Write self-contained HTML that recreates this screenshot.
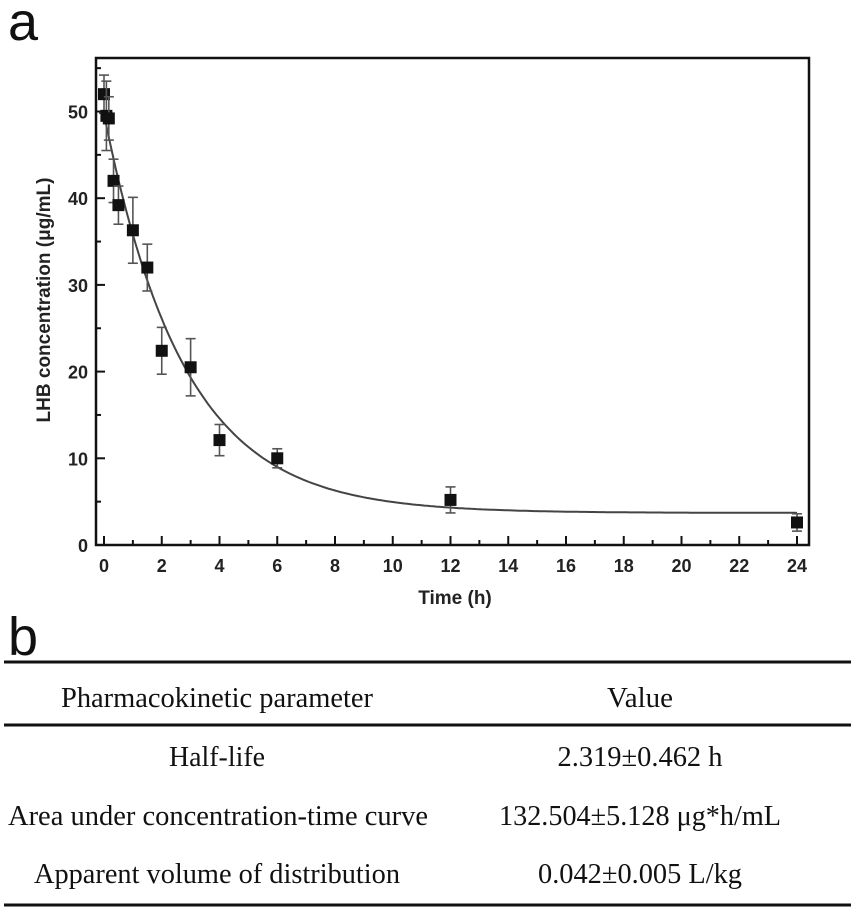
<!DOCTYPE html>
<html><head><meta charset="utf-8"><style>
html,body{margin:0;padding:0;background:#fff;}
svg{display:block;}
</style></head><body>
<svg id="fig" width="853" height="908" viewBox="0 0 853 908" xmlns="http://www.w3.org/2000/svg">
<text x="8" y="40" font-family="Liberation Sans, sans-serif" font-size="54" fill="#111">a</text>
<rect x="96" y="58" width="713" height="487" fill="none" stroke="#111" stroke-width="2.5"/>
<g id="axes"></g>
<g id="marks"></g>
<text x="455" y="604" text-anchor="middle" font-family="Liberation Sans, sans-serif" font-weight="bold" font-size="19" fill="#222">Time (h)</text>
<text transform="translate(50,300) rotate(-90)" text-anchor="middle" font-family="Liberation Sans, sans-serif" font-weight="bold" font-size="19" fill="#222">LHB concentration (μg/mL)</text>

<text x="8" y="655" font-family="Liberation Sans, sans-serif" font-size="54" fill="#111">b</text>
<line x1="4" y1="662" x2="851" y2="662" stroke="#111" stroke-width="3"/>
<line x1="4" y1="725" x2="851" y2="725" stroke="#111" stroke-width="3"/>
<line x1="4" y1="905" x2="851" y2="905" stroke="#111" stroke-width="3"/>
<g font-family="Liberation Serif, serif" font-size="29" fill="#111" text-anchor="middle">
<text x="217" y="707" textLength="312" lengthAdjust="spacingAndGlyphs">Pharmacokinetic parameter</text>
<text x="640" y="707" textLength="66" lengthAdjust="spacingAndGlyphs">Value</text>
<text x="217" y="766" textLength="96" lengthAdjust="spacingAndGlyphs">Half-life</text>
<text x="640" y="766" textLength="165" lengthAdjust="spacingAndGlyphs">2.319±0.462 h</text>
<text x="218" y="825" textLength="420" lengthAdjust="spacingAndGlyphs">Area under concentration-time curve</text>
<text x="640" y="825" textLength="282" lengthAdjust="spacingAndGlyphs">132.504±5.128 μg*h/mL</text>
<text x="217" y="883" textLength="366" lengthAdjust="spacingAndGlyphs">Apparent volume of distribution</text>
<text x="640" y="883" textLength="204" lengthAdjust="spacingAndGlyphs">0.042±0.005 L/kg</text>
</g>
</svg>
<script>
const times = [0, 0.083, 0.167, 0.33, 0.5, 1, 1.5, 2, 3, 4, 6, 12, 24];
const conc = [52, 49.5, 49.2, 42, 39.2, 36.3, 32, 22.4, 20.5, 12.1, 10, 5.2, 2.6];
const errs = [2.2, 4, 2.5, 2.5, 2.2, 3.8, 2.7, 2.7, 3.3, 1.8, 1.1, 1.5, 1.0];
const fitParams = [46, 0.36, 3.7];
const xTicks = [0, 2, 4, 6, 8, 10, 12, 14, 16, 18, 20, 22, 24];
const yTicks = [0, 10, 20, 30, 40, 50];
const NS = 'http://www.w3.org/2000/svg';
const xs = v => 104 + v * 28.875;
const ys = v => 545 - v * 8.67;
const axes = document.getElementById('axes'), marks = document.getElementById('marks');
function mk(tag, attrs, parent) {
  const e = document.createElementNS(NS, tag);
  for (const k in attrs) e.setAttribute(k, attrs[k]);
  parent.appendChild(e); return e;
}
xTicks.forEach((t, i) => {
  const l = mk('line', {x1: xs(t), x2: xs(t), y1: 545, y2: 536, stroke: '#111', 'stroke-width': 2}, axes);
  
  
  if (i < xTicks.length - 1) {
    const m = mk('line', {x1: xs(t + 1), x2: xs(t + 1), y1: 545, y2: 540, stroke: '#111', 'stroke-width': 2}, axes);
    
    
  }
  const tx = mk('text', {x: xs(t), y: 572, 'text-anchor': 'middle', 'font-family': 'Liberation Sans, sans-serif', 'font-weight': 'bold', 'font-size': 18, fill: '#222'}, axes);
  tx.textContent = t;
  
  
});
yTicks.forEach(t => {
  const l = mk('line', {x1: 96, x2: 105, y1: ys(t), y2: ys(t), stroke: '#111', 'stroke-width': 2}, axes);
  
  
  const m = mk('line', {x1: 96, x2: 101, y1: ys(t + 5), y2: ys(t + 5), stroke: '#111', 'stroke-width': 2}, axes);
  
  
  const tx = mk('text', {x: 88, y: ys(t) + 7, 'text-anchor': 'end', 'font-family': 'Liberation Sans, sans-serif', 'font-weight': 'bold', 'font-size': 18, fill: '#222'}, axes);
  tx.textContent = t;
  
  
});
let d = '';
for (let i = 0; i <= 240; i++) {
  const t = i * 0.1;
  const v = fitParams[0] * Math.exp(-fitParams[1] * t) + fitParams[2];
  d += (i ? 'L' : 'M') + xs(t).toFixed(1) + ' ' + ys(v).toFixed(1);
}
const curve = mk('path', {d: d, fill: 'none', stroke: '#444', 'stroke-width': 2}, marks);


times.forEach((t, i) => {
  const x = xs(t), y1 = ys(conc[i] + errs[i]), y2 = ys(conc[i] - errs[i]);
  const g = mk('g', {stroke: '#555', 'stroke-width': 1.6}, marks);
  
  
  mk('line', {x1: x, x2: x, y1: y1, y2: y2}, g);
  mk('line', {x1: x - 5, x2: x + 5, y1: y1, y2: y1}, g);
  mk('line', {x1: x - 5, x2: x + 5, y1: y2, y2: y2}, g);
  const r = mk('rect', {x: x - 6, y: ys(conc[i]) - 6, width: 12, height: 12, fill: '#111'}, marks);
  
  
});
</script>
</body></html>
